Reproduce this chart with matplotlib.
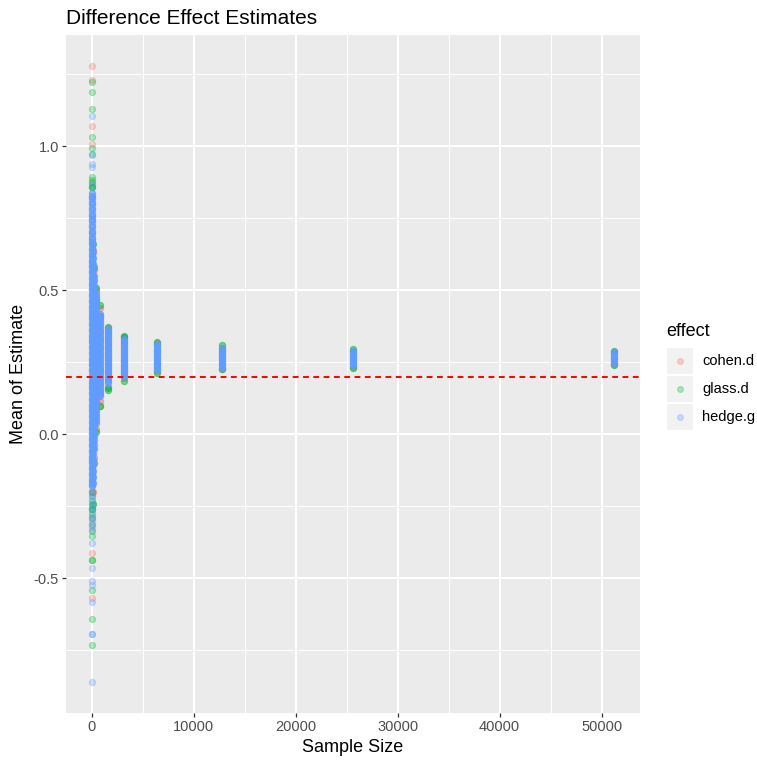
import matplotlib
matplotlib.use("Agg")
import matplotlib.pyplot as plt
import numpy as np
from matplotlib.patches import Rectangle
from matplotlib.lines import Line2D

plt.rcParams['font.family'] = ['Liberation Sans', 'DejaVu Sans']

# ---------------- data ----------------
EFFECTS = ["cohen.d", "glass.d", "hedge.g"]
COLORS = ["#F8766D", "#00BA38", "#619CFF"]
SIZES = [25, 50, 100, 200, 400, 800, 1600, 3200, 6400, 12800, 25600, 51200]

# dense core of hedge.g estimates per sample size (each value = one bin of replicates)
HEDGE_CORE = [
    [0.84, 0.82, 0.80, 0.78, 0.76, 0.74, 0.72, 0.70, 0.68, 0.66, 0.64, 0.62, 0.60, 0.58, 0.56,
     0.54, 0.52, 0.50, 0.48, 0.46, 0.44, 0.42, 0.40, 0.38, 0.36, 0.34, 0.32, 0.30, 0.28, 0.26,
     0.24, 0.22, 0.20, 0.18, 0.16, 0.14, 0.12, 0.10, 0.08, 0.06, 0.04, 0.02, 0.00, -0.02, -0.04,
     -0.06, -0.08, -0.10, -0.12, -0.14, -0.16, -0.18],
    [0.827, 0.807, 0.787, 0.767, 0.747, 0.727, 0.707, 0.687, 0.667, 0.647, 0.627, 0.607, 0.587,
     0.567, 0.547, 0.527, 0.507, 0.487, 0.467, 0.447, 0.427, 0.407, 0.387, 0.367, 0.347, 0.327,
     0.307, 0.287, 0.267, 0.247, 0.227, 0.207, 0.187, 0.167, 0.147, 0.127, 0.107, 0.087, 0.067,
     0.047, 0.027, 0.007, -0.013, -0.033, -0.053, -0.073, -0.093, -0.113, -0.133, -0.153, -0.173],
    [0.633, 0.613, 0.593, 0.573, 0.553, 0.533, 0.513, 0.493, 0.473, 0.453, 0.433, 0.413, 0.393,
     0.373, 0.353, 0.333, 0.313, 0.293, 0.273, 0.253, 0.233, 0.213, 0.193, 0.173, 0.153, 0.133,
     0.113, 0.093, 0.073, 0.053, 0.033, 0.013, -0.007, -0.027, -0.047, -0.067, -0.087, -0.107,
     -0.127, -0.147, -0.167],
    [0.55, 0.535, 0.52, 0.505, 0.49, 0.475, 0.46, 0.445, 0.43, 0.415, 0.40, 0.385, 0.37, 0.355,
     0.34, 0.325, 0.31, 0.295, 0.28, 0.265, 0.25, 0.235, 0.22, 0.205, 0.19, 0.175, 0.16, 0.145,
     0.13, 0.115, 0.10, 0.085, 0.07, 0.055, 0.04, 0.025, 0.01, -0.005, -0.02, -0.035, -0.05],
    [0.49, 0.48, 0.47, 0.46, 0.45, 0.44, 0.43, 0.42, 0.41, 0.40, 0.39, 0.38, 0.37, 0.36, 0.35,
     0.34, 0.33, 0.32, 0.31, 0.30, 0.29, 0.28, 0.27, 0.26, 0.25, 0.24, 0.23, 0.22, 0.21, 0.20,
     0.19, 0.18, 0.17, 0.16, 0.15, 0.14, 0.13, 0.12, 0.11, 0.10, 0.09, 0.08, 0.07, 0.06, 0.05,
     0.04],
    [0.42, 0.412, 0.404, 0.396, 0.388, 0.38, 0.372, 0.364, 0.356, 0.348, 0.34, 0.332, 0.324,
     0.316, 0.308, 0.30, 0.292, 0.284, 0.276, 0.268, 0.26, 0.252, 0.244, 0.236, 0.228, 0.22,
     0.212, 0.204, 0.196, 0.188, 0.18, 0.172, 0.164, 0.156, 0.148, 0.14, 0.135],
    [0.366, 0.36, 0.354, 0.348, 0.342, 0.336, 0.33, 0.324, 0.318, 0.312, 0.306, 0.30, 0.294,
     0.288, 0.282, 0.276, 0.27, 0.264, 0.258, 0.252, 0.246, 0.24, 0.234, 0.228, 0.222, 0.216,
     0.21, 0.204, 0.198, 0.192, 0.186, 0.18],
    [0.332, 0.326, 0.32, 0.314, 0.308, 0.302, 0.296, 0.29, 0.284, 0.278, 0.272, 0.266, 0.26,
     0.254, 0.248, 0.242, 0.236, 0.23, 0.224, 0.218, 0.212, 0.206, 0.202],
    [0.315, 0.309, 0.303, 0.297, 0.291, 0.285, 0.279, 0.273, 0.267, 0.261, 0.255, 0.249, 0.243,
     0.237, 0.231, 0.225],
    [0.300, 0.294, 0.288, 0.282, 0.276, 0.270, 0.264, 0.258, 0.252, 0.246, 0.240, 0.232],
    [0.289, 0.283, 0.277, 0.271, 0.265, 0.259, 0.253, 0.247, 0.240],
    [0.285, 0.279, 0.273, 0.267, 0.261, 0.255, 0.248],
]
CORE_REPS = 3

# extreme cohen.d / glass.d estimates peeking out of each column
COHEN_EDGE = [
    [], [0.82, -0.20], [0.64, -0.20], [0.57, -0.08], [0.50, 0.02], [0.44, 0.115, 0.10],
    [0.37, 0.165], [0.335, 0.195], [0.316, 0.219], [0.302, 0.229], [0.290, 0.236], [0.287, 0.244],
]
GLASS_EDGE = [
    [], [0.86, -0.26], [0.66, -0.24], [0.58, -0.10], [0.51, 0.47, 0.01], [0.45, 0.41, 0.10],
    [0.373, 0.16, 0.153], [0.342, 0.338, 0.186], [0.322, 0.213], [0.309, 0.226], [0.297, 0.232],
    [0.291, 0.241],
]
EDGE_REPS = 2

# isolated estimates at the smallest sample size
OUT_SIZE = 25
COHEN_OUT = [1.28, 1.23, 1.072, 1.01, 0.87, 0.70, -0.29, -0.32, -0.412, -0.569]
GLASS_OUT = [1.225, 1.19, 1.129, 1.034, 0.995, 0.975, 0.895, 0.885, 0.875, 0.86, -0.20, -0.215,
             -0.23, -0.245, -0.26, -0.275, -0.29, -0.31, -0.335, -0.352, -0.436, -0.436, -0.540,
             -0.641, -0.731]
HEDGE_OUT = [1.106, 0.97, 0.94, 0.93, 0.87, -0.195, -0.21, -0.225, -0.24, -0.255, -0.27, -0.285,
             -0.30, -0.315, -0.33, -0.377, -0.465, -0.509, -0.523, -0.581, -0.691, -0.694, -0.860]

TRUE_EFFECT = 0.2
X_TICKS = [0, 10000, 20000, 30000, 40000, 50000]
Y_TICKS = [-0.5, 0.0, 0.5, 1.0]
Y_TICK_LABELS = ["-0.5", "0.0", "0.5", "1.0"]


def build(groups, reps, out_vals):
    xs, ys = [], []
    for n, vals in zip(SIZES, groups):
        v = np.repeat(np.asarray(vals, dtype=float), reps)
        xs.append(np.full(len(v), n, dtype=float))
        ys.append(v)
    xs.append(np.full(len(out_vals), OUT_SIZE, dtype=float))
    ys.append(np.asarray(out_vals, dtype=float))
    return np.concatenate(xs), np.concatenate(ys)


# ---------------- figure ----------------
W, H = 757, 762
fig = plt.figure(figsize=(W / 100, H / 100), dpi=100)


def fx(px):
    return px / W


def fy(py):
    return 1 - py / H


L, R, T, B = 65.5, 640, 35, 713
ax = fig.add_axes([fx(L), fy(B), (R - L) / W, (B - T) / H])
ax.set_facecolor("#EBEBEB")
for s in ax.spines.values():
    s.set_visible(False)

ax.set_xlim(-2560, 53760)
ax.set_ylim(-0.967, 1.387)
ax.set_xticks(X_TICKS)
ax.set_xticklabels([str(t) for t in X_TICKS])
ax.set_yticks(Y_TICKS)
ax.set_yticklabels(Y_TICK_LABELS)
ax.set_xticks([5000, 15000, 25000, 35000, 45000], minor=True)
ax.set_yticks([-0.75, -0.25, 0.25, 0.75, 1.25], minor=True)
ax.grid(which="major", color="white", linewidth=1.5)
ax.grid(which="minor", color="white", linewidth=0.75)
ax.set_axisbelow(True)
ax.tick_params(which="major", length=3.0, width=0.9, color="#333333",
               labelcolor="#4D4D4D", labelsize=10.5, pad=1.8)
ax.tick_params(which="minor", length=0)

datasets = [
    build(COHEN_EDGE, EDGE_REPS, COHEN_OUT),
    build(GLASS_EDGE, EDGE_REPS, GLASS_OUT),
    build(HEDGE_CORE, CORE_REPS, HEDGE_OUT),
]
for (x, y), col in zip(datasets, COLORS):
    ax.scatter(x, y, s=20, facecolors=col, edgecolors=col, linewidths=0.8,
               alpha=0.3, zorder=3)

ax.axhline(TRUE_EFFECT, color="#FF0000", linewidth=1.4, linestyle=(0, (3.0, 2.3)), zorder=4)

# titles
fig.text(fx(65.5), fy(24), "Difference Effect Estimates", fontsize=15, ha="left",
         va="baseline", color="black")
fig.text(fx((L + R) / 2), fy(747), "Sample Size", fontsize=13, ha="center", va="center")
fig.text(fx(19), fy((T + B) / 2), "Mean of Estimate", fontsize=13, ha="center", va="center",
         rotation=90)

# legend
fig.text(fx(666), fy(332), "effect", fontsize=13, ha="left", va="center")
key_tops = [348, 376, 404]
for top, col, lab in zip(key_tops, COLORS, EFFECTS):
    fig.patches.append(Rectangle((fx(667), fy(top + 26)), 26 / W, 26 / H,
                                 transform=fig.transFigure, facecolor="#F2F2F2",
                                 edgecolor="none"))
    fig.lines.append(Line2D([fx(679.5)], [fy(top + 13)], transform=fig.transFigure,
                            marker="o", markersize=4.2, markerfacecolor=col,
                            markeredgecolor=col, markeredgewidth=0.8, alpha=0.3,
                            linestyle="none"))
    fig.text(fx(702), fy(top + 13), lab, fontsize=10.5, ha="left", va="center", color="black")

fig.savefig("out.png", dpi=100, facecolor="white")
